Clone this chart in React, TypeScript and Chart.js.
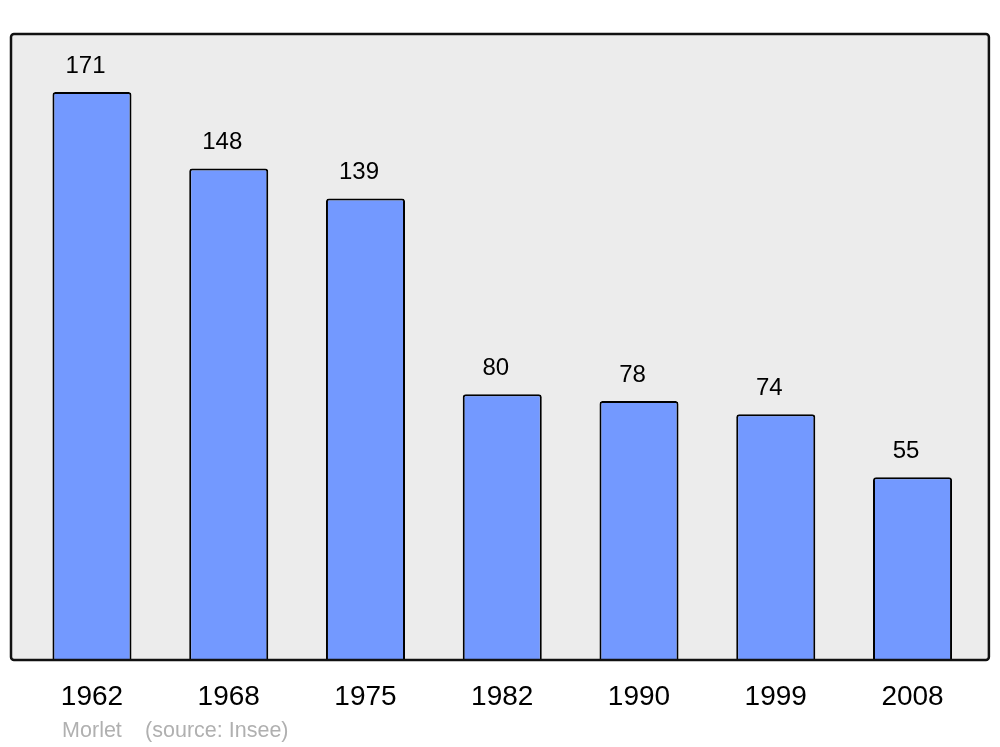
import React, { useEffect, useRef } from "react";
import { Chart, registerables } from "chart.js";

Chart.register(...registerables);

const years = ["1962", "1968", "1975", "1982", "1990", "1999", "2008"];
const population = [171, 148, 139, 80, 78, 74, 55];
const yMax = 188.5;
const footerAuthor = "Morlet";
const footerSource = "(source: Insee)";

const FONT = "'Liberation Sans', Arial, sans-serif";

const framePlugin = {
  id: "frame",
  beforeDatasetsDraw(chart: any) {
    const { ctx, chartArea } = chart;
    const l = chartArea.left - 12.6;
    const r = chartArea.right + 8;
    const t = chartArea.top;
    const b = chartArea.bottom;
    ctx.save();
    ctx.fillStyle = "#ececec";
    ctx.beginPath();
    ctx.roundRect(l, t, r - l, b - t, 3);
    ctx.fill();
    ctx.restore();
  },
  afterDatasetsDraw(chart: any) {
    const { ctx, chartArea } = chart;
    const l = chartArea.left - 12.6;
    const r = chartArea.right + 8;
    const t = chartArea.top;
    const b = chartArea.bottom;
    ctx.save();
    ctx.strokeStyle = "#111111";
    ctx.lineWidth = 2.5;
    ctx.beginPath();
    ctx.roundRect(l, t, r - l, b - t, 3);
    ctx.stroke();

    // value labels
    const meta = chart.getDatasetMeta(0);
    ctx.fillStyle = "#000000";
    ctx.font = `24px ${FONT}`;
    ctx.textAlign = "center";
    ctx.textBaseline = "alphabetic";
    meta.data.forEach((bar: any, i: number) => {
      ctx.fillText(String(population[i]), bar.x - 6.5, bar.y - 19);
    });

    // footer
    ctx.fillStyle = "#b0b0b0";
    ctx.font = `21.5px ${FONT}`;
    ctx.textAlign = "left";
    ctx.fillText(footerAuthor, chartArea.left + 38.5, 737);
    ctx.fillText(footerSource, chartArea.left + 121.5, 737);
    ctx.restore();
  },
};

export default function App() {
  const ref = useRef<HTMLCanvasElement | null>(null);
  useEffect(() => {
    document.body.style.margin = "0";
    if (!ref.current) return;
    const chart = new Chart(ref.current, {
      type: "bar",
      data: {
        labels: years,
        datasets: [
          {
            data: population,
            backgroundColor: "#7399ff",
            borderColor: "#000000",
            borderWidth: 2,
            borderRadius: 3,
            borderSkipped: "start",
            barPercentage: 0.578,
            categoryPercentage: 1,
          },
        ],
      },
      options: {
        animation: false,
        responsive: false,
        maintainAspectRatio: false,
        layout: { padding: { left: 23.6, right: 19.1, top: 34, bottom: 0 } },
        plugins: {
          legend: { display: false },
          tooltip: { enabled: false },
          title: { display: false },
        },
        scales: {
          x: {
            type: "category",
            grid: { display: false, drawTicks: false },
            border: { display: false },
            ticks: {
              color: "#000000",
              font: { size: 28, family: FONT },
              padding: 20,
              maxRotation: 0,
            },
            afterFit(scale: any) {
              scale.height = 87;
            },
          },
          y: {
            display: false,
            min: 0,
            max: yMax,
          },
        },
      },
      plugins: [framePlugin],
    });
    return () => chart.destroy();
  }, []);
  return (
    <div style={{ width: 1000, height: 747 }}>
      <canvas ref={ref} width={1000} height={747} style={{ display: "block" }} />
    </div>
  );
}
